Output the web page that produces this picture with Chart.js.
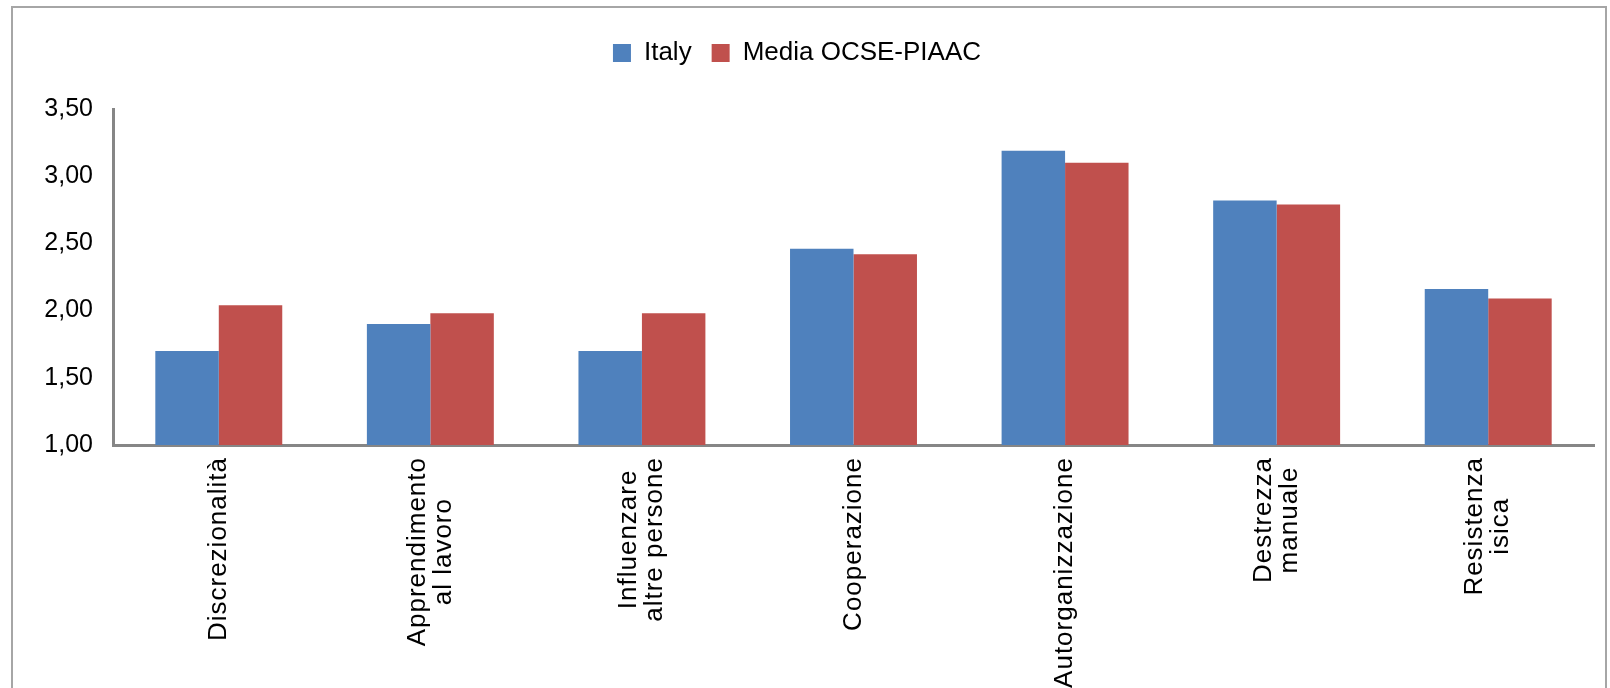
<!DOCTYPE html>
<html>
<head>
<meta charset="utf-8">
<script src="https://cdn.jsdelivr.net/npm/chart.js@4/dist/chart.umd.min.js"></script>
<style>
  body { margin: 0; background: #fff; }
  #wrap { position: relative; width: 1610px; height: 688px; overflow: hidden; }
  #frame { position: absolute; left: 11px; top: 6px; width: 1592px; height: 720px; border: 2px solid #a6a6a6; pointer-events: none; }
</style>
</head>
<body>
<div id="wrap">
  <canvas id="chart" width="1610" height="688"></canvas>
  <div id="frame"></div>
</div>
<script>
// Dati
const categories = [
    ['Discrezionalità'],
    ['Apprendimento', 'al lavoro'],
    ['Influenzare', 'altre persone'],
    ['Cooperazione'],
    ['Autorganizzazione'],
    ['Destrezza', 'manuale'],
    ['Resistenza', 'isica']
];
const italyValues = [1.70, 1.90, 1.70, 2.46, 3.19, 2.82, 2.16];
const ocseValues = [2.04, 1.98, 1.98, 2.42, 3.10, 2.79, 2.09];
const seriesNames = ['Italy', 'Media OCSE-PIAAC'];
const yTicks = [1.00, 1.50, 2.00, 2.50, 3.00, 3.50];

const FONT = '"Liberation Sans", Arial, sans-serif';

// Spazio extra sotto la legenda
const legendSpacer = {
    id: 'legendSpacer',
    beforeInit(chart) {
        const origFit = chart.legend.fit;
        chart.legend.fit = function() {
            origFit.bind(chart.legend)();
            this.height += 33;
        };
    }
};

// Etichette asse X ruotate, centrate riga per riga
const xLabelPlugin = {
    id: 'xLabels',
    afterDraw(chart) {
        const ctx = chart.ctx;
        const xScale = chart.scales.x;
        const top = xScale.top + 12;
        const lineH = 26;
        ctx.save();
        ctx.font = '26px ' + FONT;
        ctx.letterSpacing = '1px';
        ctx.fillStyle = '#000';
        ctx.textAlign = 'center';
        ctx.textBaseline = 'middle';
        categories.forEach((lines, i) => {
            const px = xScale.getPixelForValue(i);
            const longest = Math.max(...lines.map(l => ctx.measureText(l).width));
            const cy = top + longest / 2;
            lines.forEach((line, j) => {
                const off = (j - (lines.length - 1) / 2) * lineH;
                ctx.save();
                ctx.translate(px + off, cy);
                ctx.rotate(-Math.PI / 2);
                ctx.fillText(line, 0, 0);
                ctx.restore();
            });
        });
        ctx.restore();
    }
};

const ctx = document.getElementById('chart').getContext('2d');
new Chart(ctx, {
    type: 'bar',
    data: {
        labels: categories.map(c => c.join(' ')),
        datasets: [
            { label: seriesNames[0], data: italyValues, backgroundColor: '#4F81BD' },
            { label: seriesNames[1], data: ocseValues, backgroundColor: '#C0504D' }
        ]
    },
    options: {
        responsive: false,
        animation: false,
        layout: { padding: { top: 20, right: 16, left: 0, bottom: 0 } },
        datasets: {
            bar: { categoryPercentage: 0.6, barPercentage: 1.0 }
        },
        plugins: {
            legend: {
                position: 'top',
                labels: {
                    boxWidth: 18,
                    boxHeight: 18,
                    padding: 20,
                    color: '#000',
                    font: { family: FONT, size: 26 }
                }
            },
            tooltip: { enabled: false }
        },
        scales: {
            x: {
                grid: { display: false, drawTicks: false },
                border: { display: true, color: '#868686', width: 3 },
                ticks: { display: false },
                afterFit(scale) { scale.height = 243; }
            },
            y: {
                min: yTicks[0],
                max: yTicks[yTicks.length - 1],
                grid: { display: false, drawTicks: false },
                border: { display: true, color: '#868686', width: 3 },
                afterBuildTicks(scale) { scale.ticks = yTicks.map(v => ({ value: v })); },
                ticks: {
                    padding: 20,
                    color: '#000',
                    font: { family: FONT, size: 25 },
                    callback: v => v.toFixed(2).replace('.', ',')
                },
                afterFit(scale) { scale.width = 113; }
            }
        }
    },
    plugins: [legendSpacer, xLabelPlugin]
});
</script>
</body>
</html>
